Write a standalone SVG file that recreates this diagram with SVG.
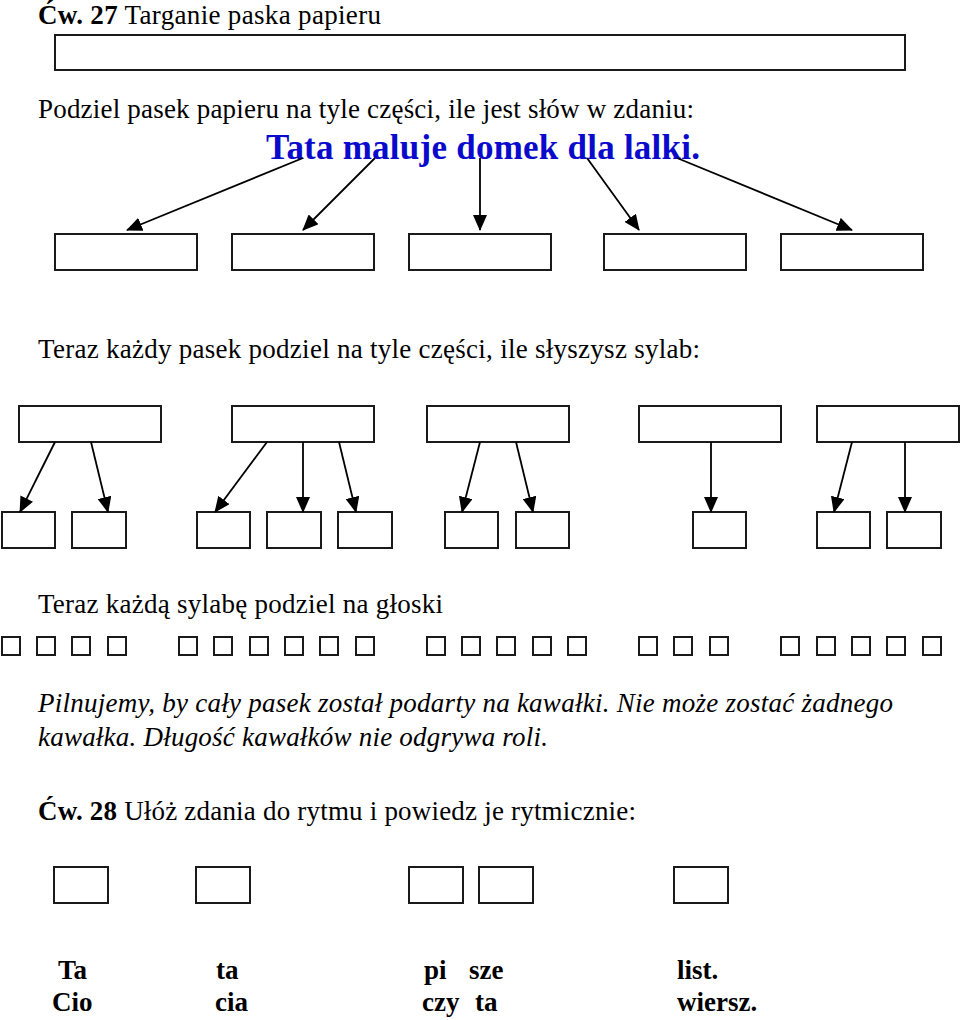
<svg xmlns="http://www.w3.org/2000/svg" width="960" height="1020" viewBox="0 0 960 1020">
<style>
text{font-family:"Liberation Serif","Times New Roman",serif;font-size:27px;fill:#000}
.b{font-weight:bold}
.i{font-style:italic}
.blue{fill:#0a0acc;font-weight:bold;font-size:35px}
.box{fill:#fff;stroke:#1a1a1a;stroke-width:2}
.sq{fill:#fff;stroke:#1a1a1a;stroke-width:2}
.ln{stroke:#000;stroke-width:1.8;fill:none;marker-end:url(#ah)}
</style>
<defs>
<marker id="ah" markerUnits="userSpaceOnUse" markerWidth="16" markerHeight="14" viewBox="0 0 16 14" refX="15" refY="7" orient="auto">
<path d="M0,0 L16,7 L0,14 z" fill="#000"/>
</marker>
</defs>
<rect width="960" height="1020" fill="#fff"/>

<g id="title27">
<text x="38" y="24" textLength="343"><tspan class="b">Ćw. 27</tspan> Targanie paska papieru</text>
</g>
<g id="strip"><rect class="box" x="55" y="35" width="850" height="35"/></g>
<g id="instr1"><text x="38" y="118" textLength="656">Podziel pasek papieru na tyle części, ile jest słów w zdaniu:</text></g>
<g id="sentence"><text class="blue" x="266" y="159" textLength="434">Tata maluje domek dla lalki.</text></g>

<g id="words">
<rect id="w1" class="box" x="55" y="234" width="142" height="36"/>
<rect id="w2" class="box" x="232" y="234" width="142" height="36"/>
<rect id="w3" class="box" x="409" y="234" width="142" height="36"/>
<rect id="w4" class="box" x="604" y="234" width="142" height="36"/>
<rect id="w5" class="box" x="781" y="234" width="142" height="36"/>
</g>

<g id="instr2"><text x="38" y="358" textLength="662">Teraz każdy pasek podziel na tyle części, ile słyszysz sylab:</text></g>

<g id="syllableParents">
<rect id="p1" class="box" x="19" y="406" width="142" height="36"/>
<rect id="p2" class="box" x="232" y="406" width="142" height="36"/>
<rect id="p3" class="box" x="427" y="406" width="142" height="36"/>
<rect id="p4" class="box" x="639" y="406" width="142" height="36"/>
<rect id="p5" class="box" x="817" y="406" width="142" height="36"/>
</g>
<g id="syllables">
<rect id="s1" class="box" x="2" y="512" width="53" height="36"/>
<rect id="s2" class="box" x="72" y="512" width="54" height="36"/>
<rect id="s3" class="box" x="197" y="512" width="53" height="36"/>
<rect id="s4" class="box" x="267" y="512" width="54" height="36"/>
<rect id="s5" class="box" x="338" y="512" width="54" height="36"/>
<rect id="s6" class="box" x="445" y="512" width="53" height="36"/>
<rect id="s7" class="box" x="516" y="512" width="53" height="36"/>
<rect id="s8" class="box" x="693" y="512" width="53" height="36"/>
<rect id="s9" class="box" x="817" y="512" width="53" height="36"/>
<rect id="s10" class="box" x="887" y="512" width="54" height="36"/>
</g>

<g id="connectors">
<line class="ln" x1="303" y1="158" x2="127" y2="230"/>
<line class="ln" x1="375" y1="158" x2="303" y2="230"/>
<line class="ln" x1="480" y1="158" x2="480" y2="230"/>
<line class="ln" x1="587" y1="158" x2="639" y2="230"/>
<line class="ln" x1="677" y1="158" x2="852" y2="230"/>

<line class="ln" x1="55" y1="442" x2="20" y2="512"/>
<line class="ln" x1="91" y1="442" x2="108" y2="512"/>
<line class="ln" x1="267" y1="442" x2="215" y2="512"/>
<line class="ln" x1="303" y1="442" x2="303" y2="512"/>
<line class="ln" x1="339" y1="442" x2="356" y2="512"/>
<line class="ln" x1="480" y1="442" x2="462" y2="512"/>
<line class="ln" x1="516" y1="442" x2="533" y2="512"/>
<line class="ln" x1="711" y1="442" x2="711" y2="512"/>
<line class="ln" x1="852" y1="442" x2="834" y2="512"/>
<line class="ln" x1="905" y1="442" x2="905" y2="512"/>
</g>

<g id="instr3"><text x="38" y="613" textLength="405">Teraz każdą sylabę podziel na głoski</text></g>

<g id="letters">
<rect class="sq" x="2" y="637" width="18" height="18"/>
<rect class="sq" x="37" y="637" width="18" height="18"/>
<rect class="sq" x="72" y="637" width="18" height="18"/>
<rect class="sq" x="108" y="637" width="18" height="18"/>
<rect class="sq" x="179" y="637" width="18" height="18"/>
<rect class="sq" x="214" y="637" width="18" height="18"/>
<rect class="sq" x="250" y="637" width="18" height="18"/>
<rect class="sq" x="285" y="637" width="18" height="18"/>
<rect class="sq" x="320" y="637" width="18" height="18"/>
<rect class="sq" x="356" y="637" width="18" height="18"/>
<rect class="sq" x="427" y="637" width="18" height="18"/>
<rect class="sq" x="462" y="637" width="18" height="18"/>
<rect class="sq" x="497" y="637" width="18" height="18"/>
<rect class="sq" x="533" y="637" width="18" height="18"/>
<rect class="sq" x="568" y="637" width="18" height="18"/>
<rect class="sq" x="639" y="637" width="18" height="18"/>
<rect class="sq" x="674" y="637" width="18" height="18"/>
<rect class="sq" x="710" y="637" width="18" height="18"/>
<rect class="sq" x="781" y="637" width="18" height="18"/>
<rect class="sq" x="817" y="637" width="18" height="18"/>
<rect class="sq" x="852" y="637" width="18" height="18"/>
<rect class="sq" x="887" y="637" width="18" height="18"/>
<rect class="sq" x="923" y="637" width="18" height="18"/>
</g>

<g id="note">
<text class="i" x="38" y="712" textLength="855">Pilnujemy, by cały pasek został podarty na kawałki. Nie może zostać żadnego</text>
<text class="i" x="38" y="746" textLength="510">kawałka. Długość kawałków nie odgrywa roli.</text>
</g>

<g id="title28">
<text x="38" y="820" textLength="598"><tspan class="b">Ćw. 28</tspan> Ułóż zdania do rytmu i powiedz je rytmicznie:</text>
</g>

<g id="rhythm">
<rect class="box" x="54" y="867" width="54" height="36"/>
<rect class="box" x="196" y="867" width="54" height="36"/>
<rect class="box" x="409" y="867" width="54" height="36"/>
<rect class="box" x="479" y="867" width="54" height="36"/>
<rect class="box" x="674" y="867" width="54" height="36"/>
</g>

<g id="words28">
<text class="b" x="58" y="979">Ta</text>
<text class="b" x="216" y="979">ta</text>
<text class="b" x="424" y="979">pi</text>
<text class="b" x="469" y="979">sze</text>
<text class="b" x="677" y="979">list.</text>
<text class="b" x="52" y="1011">Cio</text>
<text class="b" x="215" y="1011">cia</text>
<text class="b" x="422" y="1011">czy</text>
<text class="b" x="475" y="1011">ta</text>
<text class="b" x="677" y="1011">wiersz.</text>
</g>
</svg>
